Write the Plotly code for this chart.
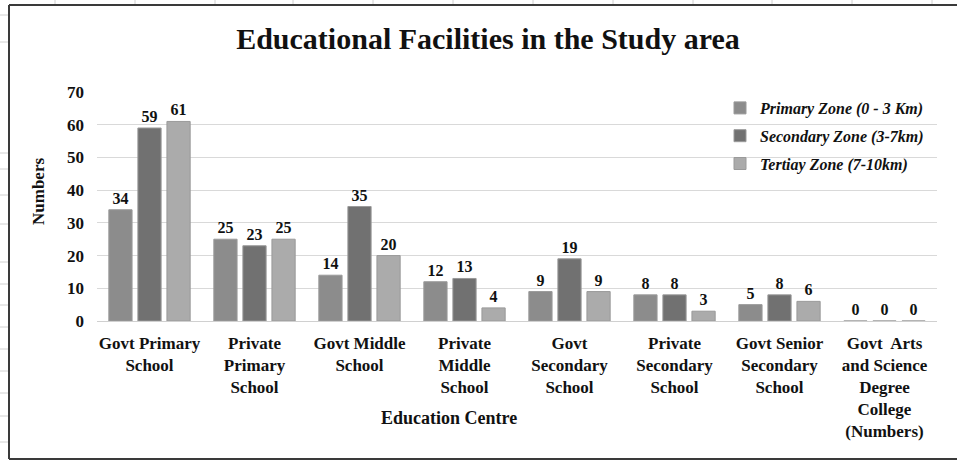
import plotly.graph_objects as go

# 数据
categories = [
    "Govt Primary<br>School",
    "Private<br>Primary<br>School",
    "Govt Middle<br>School",
    "Private<br>Middle<br>School",
    "Govt<br>Secondary<br>School",
    "Private<br>Secondary<br>School",
    "Govt Senior<br>Secondary<br>School",
    "Govt  Arts<br>and Science<br>Degree<br>College<br>(Numbers)",
]
primary_zone = [34, 25, 14, 12, 9, 8, 5, 0]
secondary_zone = [59, 23, 35, 13, 19, 8, 8, 0]
tertiary_zone = [61, 25, 20, 4, 9, 3, 6, 0]

series_names = ["Primary Zone (0 - 3 Km)", "Secondary Zone (3-7km)", "Tertiay Zone (7-10km)"]
series_colors = ["#8c8c8c", "#717171", "#ababab"]

FONT = "Liberation Serif"
W, H = 959, 461
L, R, T, B = 97, 22, 92, 140


def px_x(px):
    return (px - L) / (W - L - R)


def px_y(py):
    return (H - B - py) / (H - T - B)


fig = go.Figure()

for name, vals, color in zip(series_names, [primary_zone, secondary_zone, tertiary_zone], series_colors):
    fig.add_trace(go.Bar(
        x=categories,
        y=vals,
        name="<b><i>" + name + "</i></b>",
        marker=dict(color=color, line=dict(color="#9a9a9a", width=1)),
        text=vals,
        texttemplate="<b>%{text}</b>",
        textposition="outside",
        textfont=dict(family=FONT, size=16, color="#111111"),
        cliponaxis=False,
        legendgroup=name,
    ))

# 背景表格线（图表框外）
shapes = []
for px in [55, 135, 215, 293, 373, 453, 533, 613, 693, 772, 852, 932]:
    shapes.append(dict(type="line", xref="paper", yref="paper",
                       x0=px_x(px), x1=px_x(px), y0=px_y(0), y1=px_y(5),
                       line=dict(color="#d0d0d0", width=1)))
for py in [15, 42, 153, 169, 195, 224, 262, 284, 305, 327, 349, 371, 393, 416, 442]:
    shapes.append(dict(type="line", xref="paper", yref="paper",
                       x0=px_x(0), x1=px_x(9), y0=px_y(py), y1=px_y(py),
                       line=dict(color="#d0d0d0", width=1)))
# 图表边框（上、左、下）
border = dict(color="#3a3a3a", width=2)
shapes.append(dict(type="line", xref="paper", yref="paper",
                   x0=px_x(9), x1=px_x(W - 2), y0=px_y(5), y1=px_y(5), line=border))
shapes.append(dict(type="line", xref="paper", yref="paper",
                   x0=px_x(9), x1=px_x(W - 2), y0=px_y(459), y1=px_y(459), line=border))
shapes.append(dict(type="line", xref="paper", yref="paper",
                   x0=px_x(9), x1=px_x(9), y0=px_y(5), y1=px_y(459), line=border))

fig.update_layout(
    width=W, height=H,
    margin=dict(l=L, r=R, t=T, b=B),
    paper_bgcolor="white",
    plot_bgcolor="white",
    font=dict(family=FONT, color="#111111"),
    title=dict(
        text="<b>Educational Facilities in the Study area</b>",
        font=dict(family=FONT, size=30, color="#111111"),
        x=488 / W, xanchor="center", xref="container",
        y=1 - 38 / H, yanchor="middle", yref="container",
    ),
    barmode="group",
    bargap=0.17,
    bargroupgap=0.2,
    showlegend=True,
    legend=dict(
        x=px_x(720), xanchor="left",
        y=px_y(91), yanchor="top",
        font=dict(family=FONT, size=16, color="#111111"),
        bgcolor="rgba(0,0,0,0)",
        traceorder="grouped",
        tracegroupgap=4,
        itemwidth=30,
    ),
    shapes=shapes,
    annotations=[
        dict(text="<b>Education Centre</b>", xref="paper", yref="paper",
             x=px_x(449), y=px_y(418), xanchor="center", yanchor="middle",
             showarrow=False, font=dict(family=FONT, size=18, color="#111111")),
        dict(text="<b>Numbers</b>", xref="paper", yref="paper",
             x=px_x(38), y=px_y(192), xanchor="center", yanchor="middle",
             textangle=-90, showarrow=False,
             font=dict(family=FONT, size=17, color="#111111")),
    ],
)

fig.update_xaxes(
    tickfont=dict(family=FONT, size=17, color="#111111"),
    tickprefix="<b>", ticksuffix="</b>",
    showline=False,
    ticks="",
    ticklabelstandoff=10,
)
fig.update_yaxes(
    range=[0, 70],
    dtick=10,
    gridcolor="#d9d9d9",
    gridwidth=1,
    zeroline=True,
    zerolinecolor="#d0d0d0",
    zerolinewidth=1,
    tickfont=dict(family=FONT, size=17, color="#111111"),
    tickprefix="<b>", ticksuffix="</b>",
    ticklabelstandoff=12,
)

fig.write_html(
    "out.html",
    config={"displayModeBar": False},
    post_script="document.body.style.margin='0px'; document.body.style.overflow='hidden';",
)
